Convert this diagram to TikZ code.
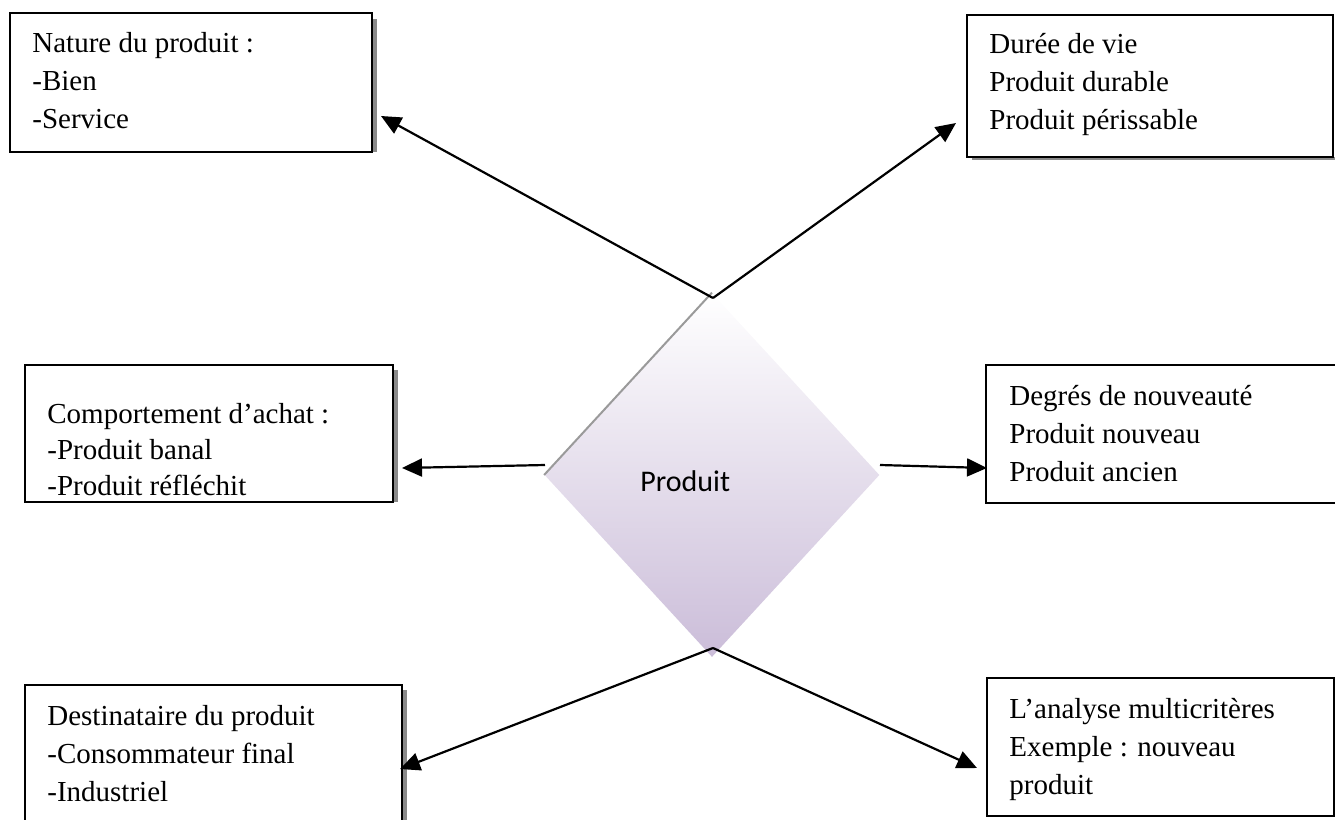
\documentclass[tikz,border=0pt]{standalone}
\usepackage{fontspec}
\setmainfont{Liberation Serif}
\newfontfamily\calibrifont{Carlito}
\usetikzlibrary{arrows.meta,shapes.geometric,fit,calc}
\definecolor{lav}{HTML}{CBBDD9}
\definecolor{shadowgray}{HTML}{8A8A8A}
\definecolor{edgegray}{HTML}{9A9A9A}
\begin{document}
\begin{tikzpicture}[x=0.5pt,y=-0.5pt,
  boxst/.style={draw=black, line width=1pt, fill=white, inner sep=0pt, rectangle},
  txt/.style={font=\fontsize{14.5}{19}\selectfont, align=left, anchor=base west, inner sep=0pt},
  conn/.style={line width=1.1pt, -{Triangle[length=10pt,width=9pt]}},
  shade/.style={fill=shadowgray}]
\useasboundingbox (0,0) rectangle (1335,820);
\clip (0,0) rectangle (1335,820);

% boxes (shadow strip first, then the framed box)
\fill[shade] (372,19) rectangle (377,152);
\node[boxst, fit={(10,13) (372,152)}] (nat) {};
\fill[shade] (972,157) rectangle (1335,160);
\node[boxst, fit={(967,15) (1333,157)}] (dur) {};
\fill[shade] (393,370) rectangle (398,502);
\node[boxst, fit={(25,365) (393,502)}] (comp) {};
\node[boxst, fit={(986,365) (1345,503)}] (deg) {};
\fill[shade] (402,690) rectangle (407,830);
\node[boxst, fit={(25,685) (402,830)}] (dest) {};
\node[boxst, fit={(987,678) (1334,816)}] (ana) {};

% box texts (anchored at the baseline of the last line)
\node[txt] (natT) at (32,128) {Nature du produit :\\-Bien\\-Service};
\node[txt] (durT) at (989,129) {Durée de vie\\Produit durable\\Produit périssable};
\node[txt, font=\fontsize{14.5}{18}\selectfont] (compT) at (47,495) {Comportement d’achat :\\-Produit banal\\-Produit réfléchit};
\node[txt] (degT) at (1009,481) {Degrés de nouveauté\\Produit nouveau\\Produit ancien};
\node[txt] (destT) at (47,801) {Destinataire du produit\\-Consommateur final\\-Industriel};
\node[txt] (anaT) at (1009,794) {L’analyse multicritères\\Exemple : nouveau\\produit};

% central diamond
\node[diamond, minimum width=167.5pt, minimum height=182pt, inner sep=0pt,
      top color=white, bottom color=lav] (prod) at (712,475) {};
\draw[edgegray, line width=1pt] (prod.west) -- (prod.north);
\node[anchor=base west, inner sep=0pt, font=\calibrifont\fontsize{15}{18}\selectfont] (prodT) at (640,491) {Produit};

% connector end points
\coordinate (top) at (713,298);
\coordinate (bot) at (713,648);
\coordinate (lft) at (545,465);
\coordinate (rgt) at (880,465);
\coordinate (natTip) at (381,116);
\coordinate (durTip) at (956,123);
\coordinate (compTip) at (402,468);
\coordinate (degTip) at (987,468);
\coordinate (destTip) at (400,769);
\coordinate (anaTip) at (977,768);

\draw[conn] (top) -- (natTip);
\draw[conn] (top) -- (durTip);
\draw[conn] (lft) -- (compTip);
\draw[conn] (rgt) -- (degTip);
\draw[conn] (bot) -- (destTip);
\draw[conn] (bot) -- (anaTip);
\end{tikzpicture}
\end{document}
